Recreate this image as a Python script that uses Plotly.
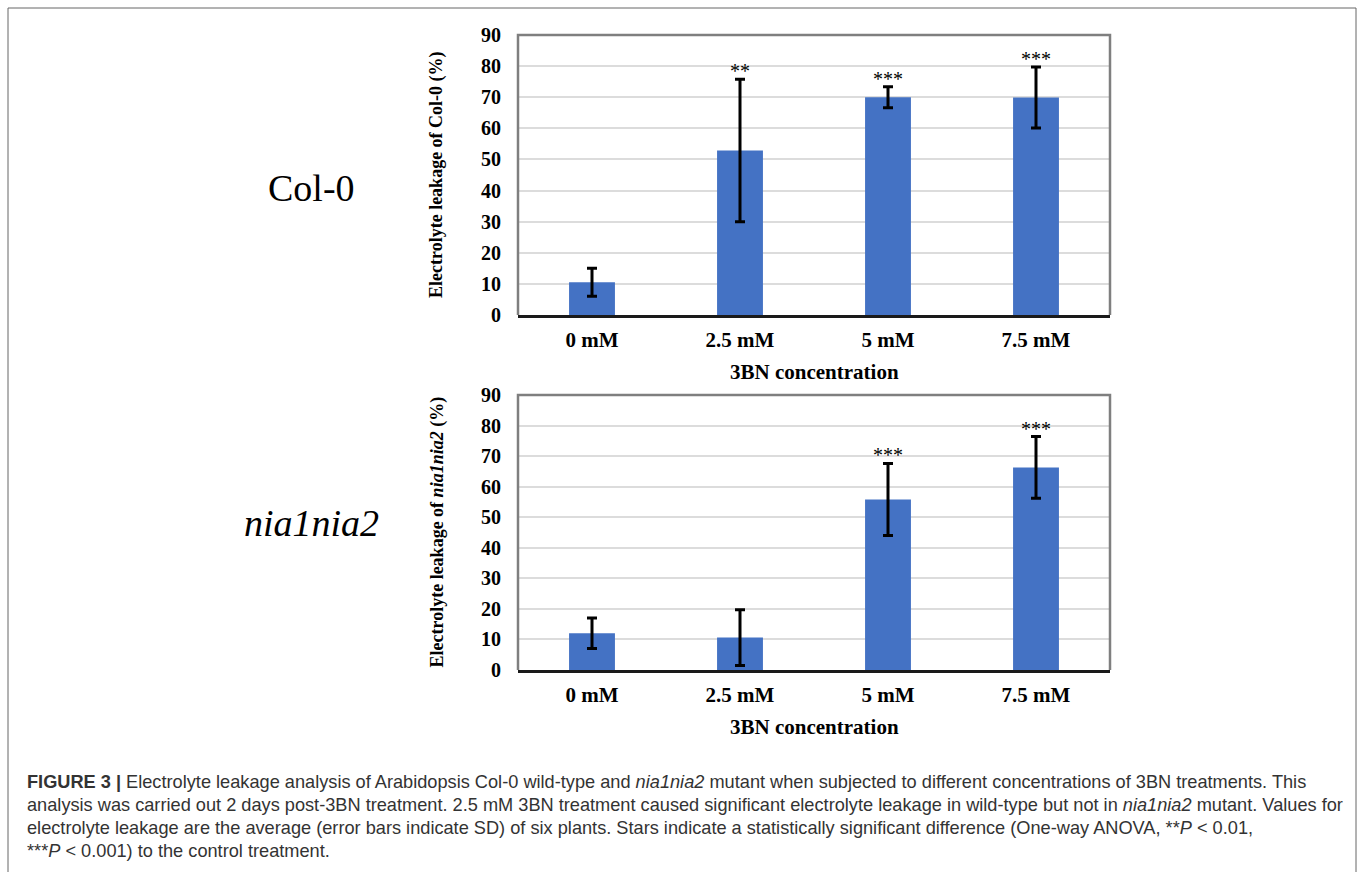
import plotly.graph_objects as go

W, H = 1360, 872

categories = ["0 mM", "2.5 mM", "5 mM", "7.5 mM"]
col0_values = [10.5, 52.9, 70.0, 69.9]
col0_sd = [4.5, 22.9, 3.4, 9.8]
col0_stars = ["", "**", "***", "***"]
nia_values = [12.0, 10.6, 55.8, 66.3]
nia_sd = [5.0, 9.1, 11.8, 10.1]
nia_stars = ["", "", "***", "***"]
y_ticks = [0, 10, 20, 30, 40, 50, 60, 70, 80, 90]

caption_lines = [
    "<b>FIGURE 3 |</b> Electrolyte leakage analysis of Arabidopsis Col-0 wild-type and <i>nia1nia2</i> mutant when subjected to different concentrations of 3BN treatments. This",
    "analysis was carried out 2 days post-3BN treatment. 2.5 mM 3BN treatment caused significant electrolyte leakage in wild-type but not in <i>nia1nia2</i> mutant. Values for",
    "electrolyte leakage are the average (error bars indicate SD) of six plants. Stars indicate a statistically significant difference (One-way ANOVA, **<i>P</i> &lt; 0.01,",
    "***<i>P</i> &lt; 0.001) to the control treatment.",
]


def px(x):
    return x / W


def py(y):
    return 1 - y / H


SERIF = "Liberation Serif"
BLUE = "#4472C4"

fig = go.Figure()

panels = [
    dict(vals=col0_values, sd=col0_sd, stars=col0_stars, top=35, bottom=315,
         xa="x", ya="y", ytitle="Electrolyte leakage of Col-0 (%)",
         label="Col-0", label_y=188),
    dict(vals=nia_values, sd=nia_sd, stars=nia_stars, top=395, bottom=670,
         xa="x2", ya="y2", ytitle="Electrolyte leakage of <i>nia1nia2</i> (%)",
         label="<i>nia1nia2</i>", label_y=523),
]

x0p, x1p = 518, 1110
annotations = []
shapes = []

for i, p in enumerate(panels):
    fig.add_trace(go.Bar(
        x=categories, y=p["vals"], xaxis=p["xa"], yaxis=p["ya"],
        marker=dict(color=BLUE, line=dict(width=0)), width=0.31,
        error_y=dict(type="data", array=p["sd"], visible=True,
                     color="black", thickness=3, width=5),
        showlegend=False,
    ))
    suffix = "" if i == 0 else "2"
    xkey = "xaxis" + suffix
    ykey = "yaxis" + suffix
    fig.layout[xkey] = dict(
        domain=[px(x0p), px(x1p)], anchor=p["ya"], automargin=False,
        showline=True, linecolor="#1a1a1a", linewidth=2.5,
        showgrid=False, ticks="",
        tickfont=dict(family=SERIF, size=21, color="black", weight="bold"),
        ticklabelstandoff=4, fixedrange=True,
    )
    fig.layout[ykey] = dict(
        domain=[py(p["bottom"]), py(p["top"])], anchor=p["xa"], automargin=False,
        range=[0, 90], tickvals=y_ticks, showgrid=True, gridcolor="#dcdcdc",
        gridwidth=1.5, zeroline=False, showline=False, ticks="",
        tickfont=dict(family=SERIF, size=20, color="black", weight="bold"),
        ticklabelstandoff=16, fixedrange=True,
    )
    # gray frame on left, top, right
    shapes.append(dict(
        type="path", xref=p["xa"] + " domain", yref=p["ya"] + " domain",
        path="M 0,0 L 0,1 L 1,1 L 1,0", line=dict(color="#7f7f7f", width=2.5),
        layer="above",
    ))
    # stars
    for c, v, s, st in zip(categories, p["vals"], p["sd"], p["stars"]):
        if st:
            annotations.append(dict(
                x=c, y=v + s, xref=p["xa"], yref=p["ya"], text=st,
                showarrow=False, xanchor="center", yanchor="bottom", yshift=-5,
                font=dict(family=SERIF, size=20, color="black"),
            ))
    # x axis title
    annotations.append(dict(
        x=px((x0p + x1p) / 2), y=py(p["bottom"] + 57), xref="paper", yref="paper",
        text="<b>3BN concentration</b>", showarrow=False,
        xanchor="center", yanchor="middle",
        font=dict(family=SERIF, size=21, color="black"),
    ))
    # y axis title
    annotations.append(dict(
        x=px(437), y=py((p["top"] + p["bottom"]) / 2), xref="paper", yref="paper",
        text="<b>" + p["ytitle"] + "</b>", textangle=-90, showarrow=False,
        xanchor="center", yanchor="middle",
        font=dict(family=SERIF, size=18, color="black"),
    ))
    # genotype label
    annotations.append(dict(
        x=px(311), y=py(p["label_y"]), xref="paper", yref="paper",
        text=p["label"], showarrow=False, xanchor="center", yanchor="middle",
        font=dict(family=SERIF, size=38, color="black"),
    ))

# caption
line_y = [782, 805, 828, 851]
for t, yy in zip(caption_lines, line_y):
    annotations.append(dict(
        x=px(25), y=py(yy), xref="paper", yref="paper", text=t,
        showarrow=False, xanchor="left", yanchor="middle",
        font=dict(family="Liberation Sans", size=18.2, color="#333333"),
    ))

# outer frame
shapes.append(dict(
    type="rect", xref="paper", yref="paper",
    x0=px(8), x1=px(1356), y0=-0.05, y1=py(8),
    line=dict(color="#666666", width=1), layer="below",
))

fig.update_layout(
    width=W, height=H, autosize=False,
    margin=dict(l=0, r=0, t=0, b=0, pad=0, autoexpand=False),
    paper_bgcolor="white", plot_bgcolor="white",
    annotations=annotations, shapes=shapes, bargap=0.69,
)

fig.write_html("out.html")
